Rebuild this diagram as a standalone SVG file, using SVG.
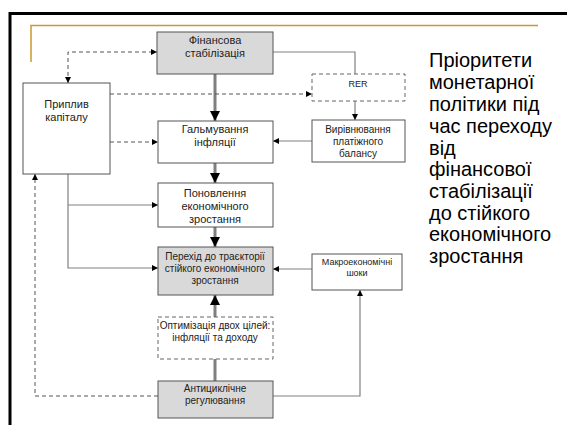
<svg xmlns="http://www.w3.org/2000/svg" width="567" height="425" viewBox="0 0 567 425">
<defs>
<style>
.box{fill:#fff;stroke:#555;stroke-width:1}
.grey{fill:#d9d9d9}
.dbox{fill:#fff;stroke:#666;stroke-width:1;stroke-dasharray:4 3}
.t{font-family:"Liberation Sans",Arial,sans-serif;fill:#222;text-anchor:middle}
.f11{font-size:11px}
.f10{font-size:10px}
.f9{font-size:9px}
.thick{fill:none;stroke:#7f7f7f;stroke-width:3}
.thin{fill:none;stroke:#808080;stroke-width:1.2}
.dash{fill:none;stroke:#555;stroke-width:1;stroke-dasharray:4 3}
.title{font-family:"Liberation Sans",Arial,sans-serif;font-size:20px;fill:#000}
</style>
<marker id="big" markerUnits="userSpaceOnUse" markerWidth="11" markerHeight="10" refX="10" refY="5" orient="auto">
<path d="M0,0 L10,5 L0,10 z" fill="#000"/>
</marker>
<marker id="sm" markerUnits="userSpaceOnUse" markerWidth="7" markerHeight="6" refX="6" refY="3" orient="auto-start-reverse">
<path d="M0,0 L6,3 L0,6 z" fill="#000"/>
</marker>
</defs>
<rect width="567" height="425" fill="#fff"/>
<g id="frame">
<path d="M10,425 V13.5 H567" fill="none" stroke="#000" stroke-width="3"/>
<path d="M31,62 V25.5 H538" fill="none" stroke="#c89b2c" stroke-width="1.5"/>
</g>
<g id="connectors">
<path class="thick" d="M215,74 V121" marker-end="url(#big)"/>
<path class="thick" d="M215,163 V183" marker-end="url(#big)"/>
<path class="thick" d="M215,227 V247" marker-end="url(#big)"/>
<path class="thick" d="M215,381 V359"/>
<path class="thick" d="M215,317 V295" marker-end="url(#big)"/>
<path class="thin" d="M273,52 H355 V74"/>
<path class="thin" d="M355,101 V120" marker-end="url(#sm)"/>
<path class="thin" d="M312,141 H273" marker-end="url(#sm)"/>
<path class="dash" d="M68,83 V52 H157" marker-start="url(#sm)" marker-end="url(#sm)"/>
<path class="dash" d="M110,94 H312" marker-end="url(#sm)"/>
<path class="dash" d="M110,142 H158" marker-end="url(#sm)"/>
<path class="thin" d="M68,174 V268 H158" marker-end="url(#sm)"/>
<path class="thin" d="M68,205 H158" marker-end="url(#sm)"/>
<path class="thin" d="M312,269 H273" marker-end="url(#sm)"/>
<path class="thin" d="M273,396 H360 V290" marker-end="url(#sm)"/>
<path class="dash" d="M158,396 H35 V174" marker-end="url(#sm)"/>
</g>
<g id="fin">
<rect class="box grey" x="157" y="32" width="116" height="42"/>
<text class="t f11" x="215" y="44">Фінансова</text>
<text class="t f11" x="215" y="57">стабілізація</text>
</g>
<g id="pryplyv">
<rect class="box" x="23" y="83" width="87" height="91"/>
<text class="t f11" x="66.5" y="108">Приплив</text>
<text class="t f11" x="66.5" y="121">капіталу</text>
</g>
<g id="rer">
<rect class="dbox" x="312" y="74" width="93" height="27"/>
<text class="t f9" x="358" y="87">RER</text>
</g>
<g id="galm">
<rect class="box" x="158" y="121" width="115" height="42"/>
<text class="t f11" x="215" y="133">Гальмування</text>
<text class="t f11" x="215" y="146">інфляції</text>
</g>
<g id="vyriv">
<rect class="box" x="312" y="120" width="93" height="42"/>
<text class="t f10" x="358" y="133">Вирівнювання</text>
<text class="t f10" x="358" y="145">платіжного</text>
<text class="t f10" x="358" y="157">балансу</text>
</g>
<g id="ponovl">
<rect class="box" x="158" y="183" width="115" height="44"/>
<text class="t f11" x="215" y="197">Поновлення</text>
<text class="t f11" x="215" y="210">економічного</text>
<text class="t f11" x="215" y="223">зростання</text>
</g>
<g id="perekhid">
<rect class="box grey" x="158" y="247" width="115" height="48"/>
<text class="t f10" x="215" y="260">Перехід до траєкторії</text>
<text class="t f10" x="215" y="272">стійкого економічного</text>
<text class="t f10" x="215" y="284">зростання</text>
</g>
<g id="makro">
<rect class="box" x="312" y="254" width="90" height="36"/>
<text class="t f9" x="357" y="265">Макроекономічні</text>
<text class="t f9" x="357" y="276">шоки</text>
</g>
<g id="optym">
<rect class="dbox" x="158" y="317" width="115" height="42"/>
<text class="t f10" x="215" y="329">Оптимізація двох цілей:</text>
<text class="t f10" x="215" y="341">інфляції та доходу</text>
</g>
<g id="antyc">
<rect class="box grey" x="158" y="381" width="115" height="37"/>
<text class="t f10" x="215" y="392">Антициклічне</text>
<text class="t f10" x="215" y="404">регулювання</text>
</g>
<g id="title">
<text class="title" x="429" y="67">Пріоритети</text>
<text class="title" x="429" y="89">монетарної</text>
<text class="title" x="429" y="111">політики під</text>
<text class="title" x="429" y="133">час переходу</text>
<text class="title" x="429" y="155">від</text>
<text class="title" x="429" y="176">фінансової</text>
<text class="title" x="429" y="198">стабілізації</text>
<text class="title" x="429" y="220">до стійкого</text>
<text class="title" x="429" y="241">економічного</text>
<text class="title" x="429" y="263">зростання</text>
</g>
</svg>
